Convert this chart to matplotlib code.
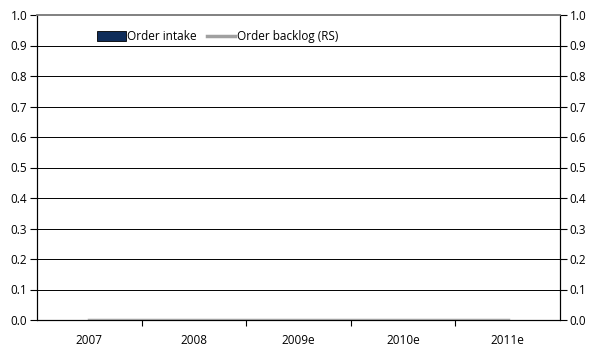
import matplotlib
matplotlib.use("Agg")
import matplotlib.pyplot as plt
import numpy as np

categories = ["2007", "2008", "2009e", "2010e", "2011e"]
order_intake = [0, 0, 0, 0, 0]
order_backlog = [0, 0, 0, 0, 0]
yticks = [0.0, 0.1, 0.2, 0.3, 0.4, 0.5, 0.6, 0.7, 0.8, 0.9, 1.0]

plt.rcParams['font.family'] = ['Open Sans', 'DejaVu Sans']

fig = plt.figure(figsize=(5.98, 3.53), dpi=100)
ax = fig.add_axes([37/598, 1-320/353, (560-37)/598, (320-15)/353])
ax2 = ax.twinx()

x = np.arange(len(categories))
ax.bar(x, order_intake, width=0.5, color="#0f2d5a", edgecolor="black", linewidth=0.6,
       label="Order intake", zorder=3)
ax2.plot(x, order_backlog, color="#a0a0a0", lw=2.5, label="Order backlog (RS)", zorder=3)

ax.set_xlim(-0.5, len(categories) - 0.5)
ax.set_ylim(0, 1)
ax2.set_ylim(0, 1)
ax.set_yticks(yticks)
ax2.set_yticks(yticks)
ax.set_yticklabels([f"{v:.1f}" for v in yticks], fontsize=8.5)
ax2.set_yticklabels([f"{v:.1f}" for v in yticks], fontsize=8.5)

ax.set_xticks(x)
ax.set_xticklabels(categories, fontsize=8.5)
ax.set_xticks(np.arange(0.5, len(categories) - 0.5, 1), minor=True)
ax.tick_params(axis='x', which='major', length=0, pad=10)
ax.tick_params(axis='x', which='minor', length=4, width=0.8, direction='out', color='black')
ax.tick_params(axis='y', length=5, width=0.8, direction='out', pad=2)
ax2.tick_params(axis='y', length=5, width=0.8, direction='out', pad=2)

for v in yticks[1:-1]:
    ax.axhline(v, color='black', lw=0.7, zorder=1)

for a in (ax, ax2):
    a.spines['top'].set_color('#808080')
    a.spines['top'].set_linewidth(1.2)
    a.spines['left'].set_linewidth(0.8)
    a.spines['right'].set_linewidth(0.8)
    a.spines['bottom'].set_linewidth(0.8)

h1, l1 = ax.get_legend_handles_labels()
h2, l2 = ax2.get_legend_handles_labels()
leg = ax.legend(h1 + h2, l1 + l2, loc='upper left', bbox_to_anchor=(0.095, 0.985), ncol=2,
                frameon=False, fontsize=8.5, handlelength=2.4, handleheight=0.9,
                columnspacing=0.9, handletextpad=0.1)

fig.savefig("out.png", dpi=100)
